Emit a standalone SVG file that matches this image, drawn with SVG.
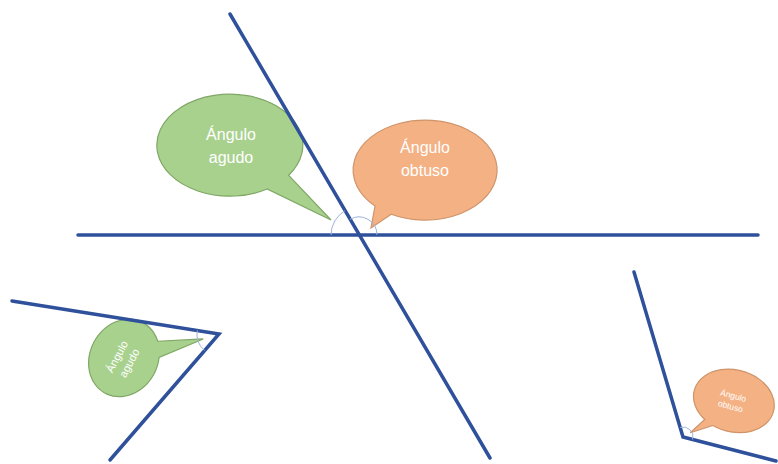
<svg xmlns="http://www.w3.org/2000/svg" width="778" height="464" viewBox="0 0 778 464">
  <style>
    .ray { fill: none; stroke: #2F509A; stroke-width: 3.5; stroke-linecap: round; stroke-linejoin: miter; }
    .mark { fill: none; stroke: #9DB3DD; stroke-width: 1; }
    .green { fill: #A9D18E; stroke: #7FA765; stroke-width: 1.2; }
    .orange { fill: #F4B183; stroke: #CF946A; stroke-width: 1.2; }
    .label { fill: #FFFFFF; font-family: "Liberation Sans", Arial, sans-serif; text-anchor: middle; }
  </style>
  <rect width="778" height="464" fill="#FFFFFF"/>

  <!-- callouts -->
  <g id="callout-acute">
    <path class="green" d="M 288.7 175.3 L 331 220 L 267.1 189 A 73 51 0 1 1 288.7 175.3 Z"/>
    <text class="label" font-size="16" x="231" y="140">Ángulo</text>
    <text class="label" font-size="16" x="231" y="163">agudo</text>
  </g>
  <g id="callout-obtuse">
    <path class="orange" d="M 391.2 214.2 L 371 228 L 375 206 A 72 50 0 1 1 391.2 214.2 Z"/>
    <text class="label" font-size="16" x="425" y="153">Ángulo</text>
    <text class="label" font-size="16" x="425" y="176">obtuso</text>
  </g>
  <g id="callout-acute-small" transform="translate(124 358) rotate(-62)">
    <path class="green" d="M 30.6 21.9 L 54 61 L 16.9 30.8 A 40 34 0 1 1 30.6 21.9 Z"/>
    <text class="label" font-size="11" x="-2" y="-3">Ángulo</text>
    <text class="label" font-size="11" x="-2" y="11">agudo</text>
  </g>
  <g id="callout-obtuse-small" transform="translate(734 401) rotate(15)">
    <path class="orange" d="M -14 29.1 L -34 42 L -23.5 25.4 A 41 31 0 1 1 -14 29.1 Z"/>
    <text class="label" font-size="8.5" x="-2" y="-2">Ángulo</text>
    <text class="label" font-size="8.5" x="-2" y="9">obtuso</text>
  </g>

  <!-- straight lines forming the angles -->
  <g id="connectors">
    <line class="ray" x1="78" y1="235" x2="758" y2="235"/>
    <line class="ray" x1="230" y1="14" x2="490" y2="458"/>
    <polyline class="ray" points="12,301 219,334 110,460"/>
    <polyline class="ray" points="634,272 683,437 776,461"/>
  </g>

  <!-- angle marks -->
  <g id="angle-marks">
    <path class="mark" d="M 331 235 A 28 28 0 0 1 344.9 210.8"/>
    <path class="mark" d="M 349.9 219.4 A 18 18 0 0 1 377 235"/>
    <path class="mark" d="M 197.3 330.4 A 22 22 0 0 0 204.5 350.5"/>
    <path class="mark" d="M 680.2 427.4 A 10 10 0 0 1 692.7 439.5"/>
  </g>
</svg>
